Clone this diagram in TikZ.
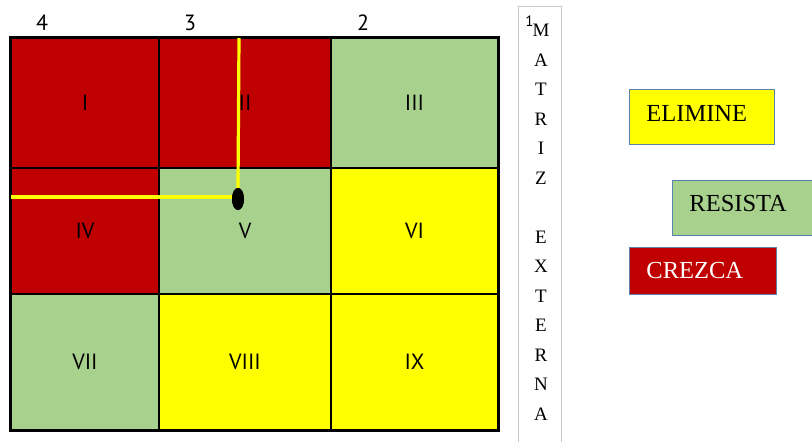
\documentclass[tikz,border=0pt]{standalone}
\usepackage{fontspec}
\setmainfont{Liberation Serif}
\newfontfamily\gridfont{PT Sans}
\usetikzlibrary{shapes.geometric}
\definecolor{cred}{HTML}{C00000}
\definecolor{cgreen}{HTML}{A9D18E}
\definecolor{cyel}{HTML}{FFFF00}
\definecolor{cbord}{HTML}{5B82AE}
\definecolor{cgray}{HTML}{C8C8C8}
\begin{document}
\begin{tikzpicture}[x=1pt,y=-1pt,
  cell/.style={draw=black, line width=1.7pt, inner sep=0pt, font=\gridfont\fontsize{22}{22}\selectfont},
  colnum/.style={font=\gridfont\fontsize{22}{22}\selectfont, inner sep=0pt},
  vletter/.style={font=\fontsize{19}{19}\selectfont, inner sep=0pt, anchor=base},
  lbox/.style={draw=cbord, line width=0.9pt, inner sep=0pt, minimum height=55pt, align=left, font=\fontsize{24.5}{24.5}\selectfont},
  yline/.style={draw=cyel, line width=3.2pt}]
\useasboundingbox (0,0) rectangle (812,442);
% cells
\node[cell, fill=cred,   minimum width=148pt, minimum height=130pt] (c1) at (85,103)  {I};
\node[cell, fill=cred,   minimum width=172pt, minimum height=130pt] (c2) at (245,103) {II};
\node[cell, fill=cgreen, minimum width=167pt, minimum height=130pt] (c3) at (414.5,103) {III};
\node[cell, fill=cred,   minimum width=148pt, minimum height=126pt] (c4) at (85,231)  {IV};
\node[cell, fill=cgreen, minimum width=172pt, minimum height=126pt] (c5) at (245,231) {V};
\node[cell, fill=cyel,   minimum width=167pt, minimum height=126pt] (c6) at (414.5,231) {VI};
\node[cell, fill=cgreen, minimum width=148pt, minimum height=136pt] (c7) at (85,362)  {VII};
\node[cell, fill=cyel,   minimum width=172pt, minimum height=136pt] (c8) at (245,362) {VIII};
\node[cell, fill=cyel,   minimum width=167pt, minimum height=136pt] (c9) at (414.5,362) {IX};
\draw[line width=2.6pt] (c1.north west) rectangle (c9.south east);
% column numbers
\node[colnum] (n4) at (42,23) {4};
\node[colnum] (n3) at (190,23) {3};
\node[colnum] (n2) at (363,23) {2};
% yellow lines and dot
\node[ellipse, fill=black, minimum width=12pt, minimum height=22pt, inner sep=0pt] (dot) at (238,199) {};
\coordinate (ytop) at (239,38);
\coordinate (yleft) at (11,197);
\draw[yline] (ytop) -- (dot.north);
\draw[yline] (yleft) -- (yleft -| dot.west);
\node[ellipse, fill=black, minimum width=12pt, minimum height=22pt, inner sep=0pt] at (dot) {};
% vertical text box
\draw[cgray, line width=1pt] (518,450) -- (518,6) -- (561,6) -- (561,450);
\node[font=\gridfont\fontsize{15}{15}\selectfont, inner sep=0pt] (one) at (529.5,21) {1};
\foreach \l [count=\i from 0] in {M,A,T,R,I,Z,{},E,X,T,E,R,N,A}
  \node[vletter] (l\i) at (541,{36.5+29.5*\i}) {\l};
% legend boxes
\node[lbox, fill=cyel, text width=145pt, anchor=north west] (elim) at (629,89) {\hspace*{17pt}ELIMINE\rule[-7pt]{0pt}{0pt}};
\node[lbox, fill=cgreen, text width=141pt, anchor=north west] (resi) at (672,180) {\hspace*{17pt}RESISTA\rule[-10pt]{0pt}{0pt}};
\node[lbox, fill=cred, text width=147pt, minimum height=47pt, anchor=north west, text=white] (crez) at (629,247) {\hspace*{17pt}CREZCA};
\end{tikzpicture}
\end{document}
